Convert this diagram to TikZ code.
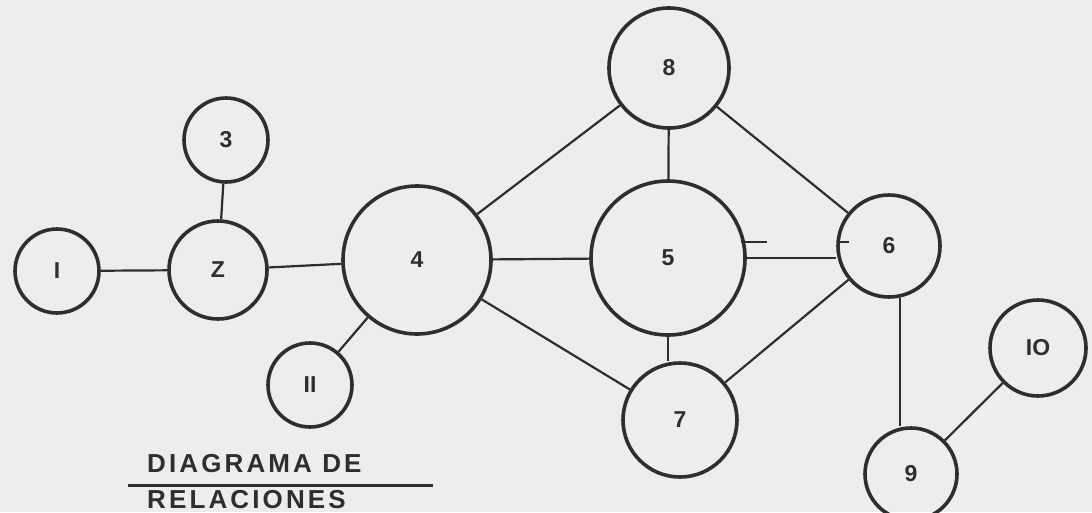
\documentclass[tikz,border=0pt]{standalone}
\usepackage{fontspec}
\setmainfont{Liberation Sans}
\begin{document}
\begin{tikzpicture}[x=1pt,y=-1pt,
  nd/.style={circle,draw=ink,line width=3.6pt,inner sep=0pt,minimum size=#1,font=\bfseries\fontsize{23}{23}\selectfont,text=ink},
  ln/.style={draw=ink,line width=2.2pt},
  tick/.style={draw=ink,line width=1.4pt},
  title/.style={font=\bfseries\fontsize{26}{26}\selectfont\addfontfeature{LetterSpace=12},text=ink,anchor=base west,inner sep=0pt}]
\definecolor{ink}{HTML}{2E2E2E}
\definecolor{paper}{HTML}{EDEDEB}
\fill[paper] (0,0) rectangle (1092,512);
\useasboundingbox (0,0) rectangle (1092,512);
\node[nd=84pt]  (n1)  at (57,271)  {I};
\node[nd=98pt]  (n2)  at (218,270) {Z};
\node[nd=84pt]  (n3)  at (226,140) {3};
\node[nd=148pt] (n4)  at (417,260) {4};
\node[nd=154pt] (n5)  at (668,258) {5};
\node[nd=102pt] (n6)  at (889,246) {6};
\node[nd=114pt] (n7)  at (680,420) {7};
\node[nd=120pt] (n8)  at (669,68)  {8};
\node[nd=92pt]  (n9)  at (911,474) {9};
\node[nd=96pt]  (n10) at (1038,348) {IO};
\node[nd=84pt]  (n11) at (310,385) {II};
\draw[ln] (n1) -- (n2);
\draw[ln] (n2) -- (n3);
\draw[ln] (n2) -- (n4);
\draw[ln] (n4) -- (n11);
\draw[ln] (n4) -- (n8);
\draw[ln] (n4) -- (n5);
\draw[ln] (n4) -- (n7);
\draw[ln] (n8) -- (n5);
\draw[ln] (n8) -- (n6);
\draw[ln] (n5.east) -- (n5.east -| n6.west);
\draw[ln] (n5.south) -- (n5.south |- n7.north);
\draw[ln] (n6) -- (n7);
\draw[ln] (n6.-78) -- (n6.-78 |- n9.north);
\draw[ln] (n9) -- (n10);
\coordinate (k1) at (741,242);
\coordinate (k2) at (767,242);
\coordinate (k3) at (839,242);
\coordinate (k4) at (849,242);
\draw[tick] (k1) -- (k2);
\draw[tick] (k3) -- (k4);
\node[title] (t1) at (147,472) {DIAGRAMA DE};
\coordinate (u1) at (128,485);
\coordinate (u2) at (433,485);
\draw[draw=ink,line width=3pt] (u1) -- (u2);
\node[title] (t2) at (147,508) {RELACIONES};
\end{tikzpicture}
\end{document}
